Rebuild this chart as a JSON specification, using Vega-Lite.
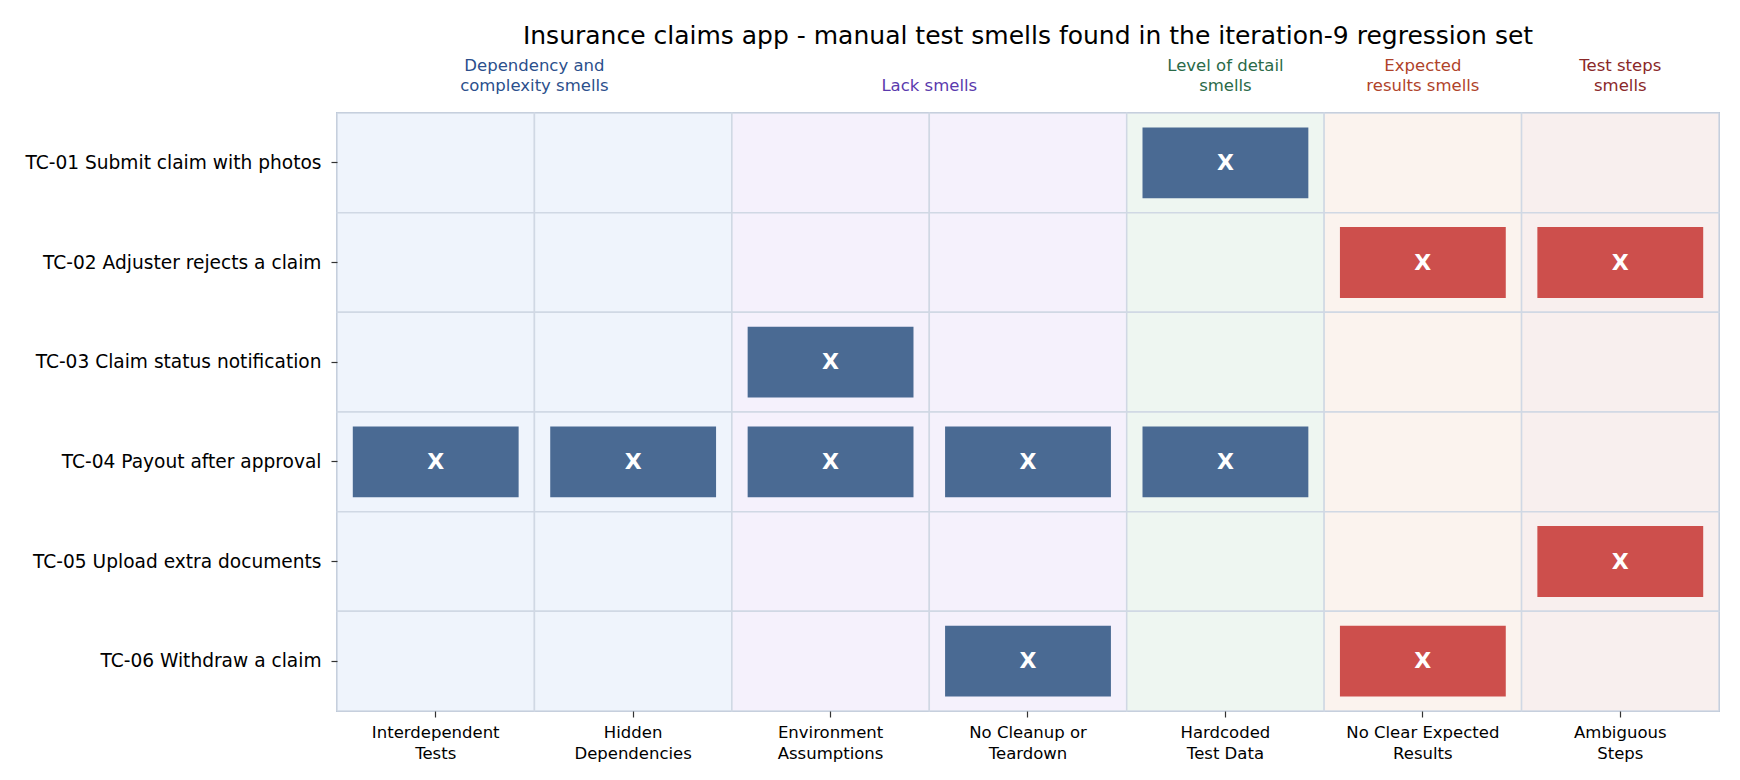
{
  "$schema": "https://vega.github.io/schema/vega-lite/v6.json",
  "width": 1382,
  "height": 598,
  "padding": {"left": 24, "top": 24, "right": 5, "bottom": 5},
  "background": "white",
  "title": {
    "text": "Insurance claims app - manual test smells found in the iteration-9 regression set",
    "fontSize": 25,
    "fontWeight": "normal",
    "font": "DejaVu Sans",
    "color": "black",
    "frame": "group",
    "anchor": "middle",
    "offset": 8
  },
  "data": {
    "values": [
      {"test": "TC-01 Submit claim with photos", "smell": "Interdependent Tests", "group": "Dependency", "found": false},
      {"test": "TC-01 Submit claim with photos", "smell": "Hidden Dependencies", "group": "Dependency", "found": false},
      {"test": "TC-01 Submit claim with photos", "smell": "Environment Assumptions", "group": "Lack", "found": false},
      {"test": "TC-01 Submit claim with photos", "smell": "No Cleanup or Teardown", "group": "Lack", "found": false},
      {"test": "TC-01 Submit claim with photos", "smell": "Hardcoded Test Data", "group": "Level of detail", "found": true},
      {"test": "TC-01 Submit claim with photos", "smell": "No Clear Expected Results", "group": "Expected results", "found": false},
      {"test": "TC-01 Submit claim with photos", "smell": "Ambiguous Steps", "group": "Test steps", "found": false},
      {"test": "TC-02 Adjuster rejects a claim", "smell": "Interdependent Tests", "group": "Dependency", "found": false},
      {"test": "TC-02 Adjuster rejects a claim", "smell": "Hidden Dependencies", "group": "Dependency", "found": false},
      {"test": "TC-02 Adjuster rejects a claim", "smell": "Environment Assumptions", "group": "Lack", "found": false},
      {"test": "TC-02 Adjuster rejects a claim", "smell": "No Cleanup or Teardown", "group": "Lack", "found": false},
      {"test": "TC-02 Adjuster rejects a claim", "smell": "Hardcoded Test Data", "group": "Level of detail", "found": false},
      {"test": "TC-02 Adjuster rejects a claim", "smell": "No Clear Expected Results", "group": "Expected results", "found": true},
      {"test": "TC-02 Adjuster rejects a claim", "smell": "Ambiguous Steps", "group": "Test steps", "found": true},
      {"test": "TC-03 Claim status notification", "smell": "Interdependent Tests", "group": "Dependency", "found": false},
      {"test": "TC-03 Claim status notification", "smell": "Hidden Dependencies", "group": "Dependency", "found": false},
      {"test": "TC-03 Claim status notification", "smell": "Environment Assumptions", "group": "Lack", "found": true},
      {"test": "TC-03 Claim status notification", "smell": "No Cleanup or Teardown", "group": "Lack", "found": false},
      {"test": "TC-03 Claim status notification", "smell": "Hardcoded Test Data", "group": "Level of detail", "found": false},
      {"test": "TC-03 Claim status notification", "smell": "No Clear Expected Results", "group": "Expected results", "found": false},
      {"test": "TC-03 Claim status notification", "smell": "Ambiguous Steps", "group": "Test steps", "found": false},
      {"test": "TC-04 Payout after approval", "smell": "Interdependent Tests", "group": "Dependency", "found": true},
      {"test": "TC-04 Payout after approval", "smell": "Hidden Dependencies", "group": "Dependency", "found": true},
      {"test": "TC-04 Payout after approval", "smell": "Environment Assumptions", "group": "Lack", "found": true},
      {"test": "TC-04 Payout after approval", "smell": "No Cleanup or Teardown", "group": "Lack", "found": true},
      {"test": "TC-04 Payout after approval", "smell": "Hardcoded Test Data", "group": "Level of detail", "found": true},
      {"test": "TC-04 Payout after approval", "smell": "No Clear Expected Results", "group": "Expected results", "found": false},
      {"test": "TC-04 Payout after approval", "smell": "Ambiguous Steps", "group": "Test steps", "found": false},
      {"test": "TC-05 Upload extra documents", "smell": "Interdependent Tests", "group": "Dependency", "found": false},
      {"test": "TC-05 Upload extra documents", "smell": "Hidden Dependencies", "group": "Dependency", "found": false},
      {"test": "TC-05 Upload extra documents", "smell": "Environment Assumptions", "group": "Lack", "found": false},
      {"test": "TC-05 Upload extra documents", "smell": "No Cleanup or Teardown", "group": "Lack", "found": false},
      {"test": "TC-05 Upload extra documents", "smell": "Hardcoded Test Data", "group": "Level of detail", "found": false},
      {"test": "TC-05 Upload extra documents", "smell": "No Clear Expected Results", "group": "Expected results", "found": false},
      {"test": "TC-05 Upload extra documents", "smell": "Ambiguous Steps", "group": "Test steps", "found": true},
      {"test": "TC-06 Withdraw a claim", "smell": "Interdependent Tests", "group": "Dependency", "found": false},
      {"test": "TC-06 Withdraw a claim", "smell": "Hidden Dependencies", "group": "Dependency", "found": false},
      {"test": "TC-06 Withdraw a claim", "smell": "Environment Assumptions", "group": "Lack", "found": false},
      {"test": "TC-06 Withdraw a claim", "smell": "No Cleanup or Teardown", "group": "Lack", "found": true},
      {"test": "TC-06 Withdraw a claim", "smell": "Hardcoded Test Data", "group": "Level of detail", "found": false},
      {"test": "TC-06 Withdraw a claim", "smell": "No Clear Expected Results", "group": "Expected results", "found": true},
      {"test": "TC-06 Withdraw a claim", "smell": "Ambiguous Steps", "group": "Test steps", "found": false}
    ]
  },
  "encoding": {
    "x": {
      "field": "smell",
      "type": "nominal",
      "sort": null,
      "scale": {"paddingInner": 0, "paddingOuter": 0},
      "axis": null
    },
    "y": {
      "field": "test",
      "type": "nominal",
      "sort": null,
      "scale": {"paddingInner": 0, "paddingOuter": 0},
      "axis": {
        "title": null,
        "labelFont": "DejaVu Sans",
        "labelFontSize": 18.6,
        "labelColor": "black",
        "labelPadding": 10,
        "labelLimit": 500,
        "tickSize": 6,
        "tickColor": "#333333",
        "tickWidth": 1.2,
        "domain": false,
        "zindex": 1
      }
    }
  },
  "layer": [
    {
      "mark": {"type": "rect", "stroke": "#d0d8e4", "strokeWidth": 1.5},
      "encoding": {
        "x": {
          "field": "smell",
          "type": "nominal",
          "sort": null,
          "axis": {
            "title": null,
            "orient": "bottom",
            "labelAngle": 0,
            "labelFont": "DejaVu Sans",
            "labelFontSize": 16.5,
            "labelFontWeight": "normal",
            "labelColor": "black",
            "labelPadding": 7,
            "labelLineHeight": 21,
            "labelBaseline": "top",
            "tickSize": 6,
            "tickColor": "#333333",
            "tickWidth": 1.2,
            "domain": false,
            "zindex": 1,
            "labelExpr": "{'Interdependent Tests': ['Interdependent', 'Tests'], 'Hidden Dependencies': ['Hidden', 'Dependencies'], 'Environment Assumptions': ['Environment', 'Assumptions'], 'No Cleanup or Teardown': ['No Cleanup or', 'Teardown'], 'Hardcoded Test Data': ['Hardcoded', 'Test Data'], 'No Clear Expected Results': ['No Clear Expected', 'Results'], 'Ambiguous Steps': ['Ambiguous', 'Steps']}[datum.value]"
          }
        },
        "color": {
          "field": "group",
          "type": "nominal",
          "legend": null,
          "scale": {
            "domain": ["Dependency", "Lack", "Level of detail", "Expected results", "Test steps"],
            "range": ["#eff4fc", "#f5f1fc", "#eef6f1", "#fbf3ee", "#f8efee"]
          }
        }
      }
    },
    {
      "transform": [{"filter": "datum.found"}],
      "mark": {"type": "rect", "width": {"band": 0.84}, "height": {"band": 0.71}},
      "encoding": {
        "color": {
          "field": "group",
          "type": "nominal",
          "legend": null,
          "scale": {
            "domain": ["Dependency", "Lack", "Level of detail", "Expected results", "Test steps"],
            "range": ["#4a6a93", "#4a6a93", "#4a6a93", "#cd4f4c", "#cd4f4c"]
          }
        }
      }
    },
    {
      "transform": [{"filter": "datum.found"}],
      "mark": {
        "type": "text",
        "text": "X",
        "font": "DejaVu Sans",
        "fontSize": 22,
        "fontWeight": "bold",
        "color": "white",
        "baseline": "middle"
      }
    },
    {
      "transform": [{"filter": "datum.test == 'TC-01 Submit claim with photos'"}],
      "mark": {"type": "tick", "opacity": 0},
      "encoding": {
        "x": {
          "field": "smell",
          "type": "nominal",
          "sort": null,
          "axis": {
            "orient": "top",
            "title": null,
            "domain": false,
            "ticks": false,
            "labelAngle": 0,
            "labelFont": "DejaVu Sans",
            "labelFontSize": 16.5,
            "labelLineHeight": 20,
            "labelPadding": 40,
            "labelExpr": "datum.value == 'Interdependent Tests' ? ['Dependency and', 'complexity smells'] : datum.value == 'Environment Assumptions' ? ['', 'Lack smells'] : datum.value == 'Hardcoded Test Data' ? ['Level of detail', 'smells'] : datum.value == 'No Clear Expected Results' ? ['Expected', 'results smells'] : datum.value == 'Ambiguous Steps' ? ['Test steps', 'smells'] : ''",
            "labelOffset": {
              "condition": {"test": "datum.value == 'Interdependent Tests' || datum.value == 'Environment Assumptions'", "value": 98.7},
              "value": 0
            },
            "labelColor": {
              "condition": [
                {"test": "datum.value == 'Interdependent Tests'", "value": "#2b4f8c"},
                {"test": "datum.value == 'Environment Assumptions'", "value": "#5a3aad"},
                {"test": "datum.value == 'Hardcoded Test Data'", "value": "#2a6a48"},
                {"test": "datum.value == 'No Clear Expected Results'", "value": "#b0432a"}
              ],
              "value": "#8a2828"
            }
          }
        }
      }
    }
  ],
  "resolve": {"scale": {"color": "independent"}, "axis": {"x": "independent"}},
  "config": {
    "view": {"stroke": "#a9b7cb", "strokeWidth": 2}
  }
}
